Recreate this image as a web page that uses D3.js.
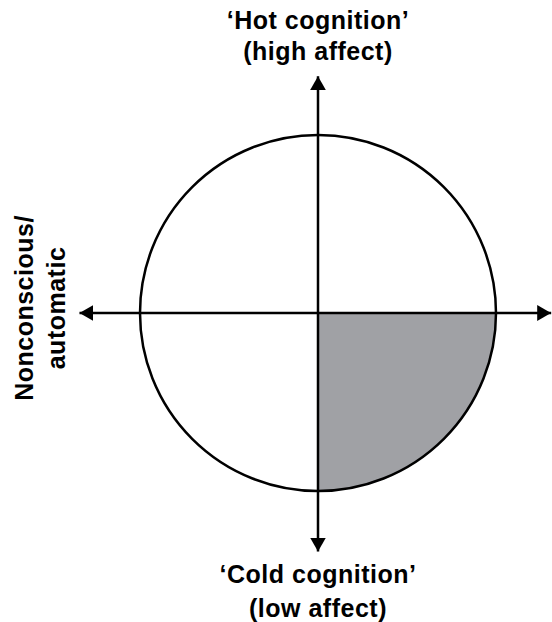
<!DOCTYPE html>
<html>
<head>
<meta charset="utf-8">
<script src="https://cdn.jsdelivr.net/npm/d3@7"></script>
<style>
  body { margin: 0; background: #fff; }
  text { font-family: "Liberation Sans", Arial, Helvetica, sans-serif; font-weight: bold; fill: #000; letter-spacing: 0.5px; }
</style>
</head>
<body>
<div class="canva"></div>
<script>
const width = 552;
const height = 622;

// axis labels (lines)
const topLabel = ["\u2018Hot cognition\u2019", "(high affect)"];
const bottomLabel = ["\u2018Cold cognition\u2019", "(low affect)"];
const leftLabel = ["Nonconscious/", "automatic"];

// circle and axis extents, in unit coordinates (circle radius = 1)
const circleRadius = [1];
const axisX = [-1.34, 1.31];
const axisY = [-1.34, 1.33];
// shaded quadrant (angles, d3.arc convention: 0 = up, clockwise)
const shaded = [{start: Math.PI / 2, end: Math.PI}];

const cx = 318, cy = 313, R = 178;

const x = d3.scaleLinear().domain([-1, 1]).range([cx - R, cx + R]);
const y = d3.scaleLinear().domain([-1, 1]).range([cy + R, cy - R]);

const svg = d3.select(".canva").append("svg")
    .attr("width", width)
    .attr("height", height);

const defs = svg.append("defs");
defs.append("marker")
    .attr("id", "arrow")
    .attr("viewBox", "0 0 14 16")
    .attr("refX", 14)
    .attr("refY", 8)
    .attr("markerWidth", 14)
    .attr("markerHeight", 16)
    .attr("markerUnits", "userSpaceOnUse")
    .attr("orient", "auto-start-reverse")
    .append("path")
    .attr("d", "M0,0 L14,8 L0,16 Z")
    .attr("fill", "#000");

// shaded quadrant
const arc = d3.arc().innerRadius(0).outerRadius(d => x(1) - x(0));
svg.selectAll("path.quad")
    .data(shaded)
    .enter()
    .append("path")
    .attr("class", "quad")
    .attr("transform", `translate(${x(0)},${y(0)})`)
    .attr("d", d => arc({startAngle: d.start, endAngle: d.end}))
    .attr("fill", "#a0a1a5");

// circle
svg.selectAll("circle")
    .data(circleRadius)
    .enter()
    .append("circle")
    .attr("cx", x(0))
    .attr("cy", y(0))
    .attr("r", d => x(d) - x(0))
    .attr("fill", "none")
    .attr("stroke", "#000")
    .attr("stroke-width", 2.5);

// axes with arrows at both ends
svg.append("line")
    .attr("x1", x(axisX[0])).attr("x2", x(axisX[1]))
    .attr("y1", y(0)).attr("y2", y(0))
    .attr("stroke", "#000").attr("stroke-width", 2.5)
    .attr("marker-start", "url(#arrow)")
    .attr("marker-end", "url(#arrow)");

svg.append("line")
    .attr("x1", x(0)).attr("x2", x(0))
    .attr("y1", y(axisY[1])).attr("y2", y(axisY[0]))
    .attr("stroke", "#000").attr("stroke-width", 2.5)
    .attr("marker-start", "url(#arrow)")
    .attr("marker-end", "url(#arrow)");

// labels
const fs = 25;
svg.selectAll("text.top")
    .data(topLabel)
    .enter()
    .append("text")
    .attr("class", "top")
    .attr("x", x(0))
    .attr("y", (d, i) => 29 + i * 31)
    .attr("text-anchor", "middle")
    .attr("font-size", fs)
    .text(d => d);

svg.selectAll("text.bottom")
    .data(bottomLabel)
    .enter()
    .append("text")
    .attr("class", "bottom")
    .attr("x", x(0))
    .attr("y", (d, i) => 583 + i * 34)
    .attr("text-anchor", "middle")
    .attr("font-size", fs)
    .text(d => d);

svg.selectAll("text.left")
    .data(leftLabel)
    .enter()
    .append("text")
    .attr("class", "left")
    .attr("transform", (d, i) => `translate(${33 + i * 32},${y(0) - 5}) rotate(-90)`)
    .attr("text-anchor", "middle")
    .attr("font-size", fs)
    .text(d => d);
</script>
</body>
</html>
